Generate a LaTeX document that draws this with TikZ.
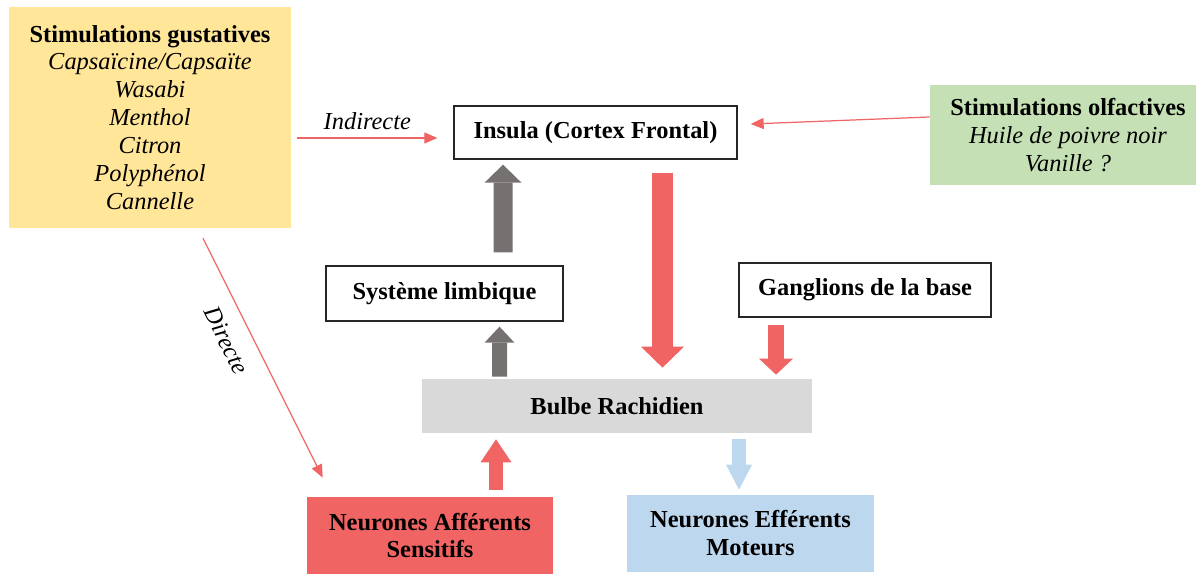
\documentclass[tikz,border=0pt]{standalone}
\usepackage{fontspec}
\setmainfont{Liberation Serif}
\usetikzlibrary{arrows.meta,calc}

\definecolor{gustyellow}{HTML}{FFE699}
\definecolor{olfgreen}{HTML}{C5E0B4}
\definecolor{nervered}{HTML}{F06464}
\definecolor{bulbegray}{HTML}{D9D9D9}
\definecolor{motorblue}{HTML}{BDD7EE}
\definecolor{limbgray}{HTML}{767171}

\begin{document}
\begin{tikzpicture}[x=0.02cm, y=-0.02cm,
			font=\fontsize{13.9}{15.9}\selectfont,
			plainbox/.style={rectangle, draw=black!85, line width=0.8pt, align=center, font=\fontsize{13.9}{15.9}\selectfont\bfseries},
			colorbox/.style={rectangle, fill=#1, align=center, inner sep=0pt},
			linkarrow/.style={draw=nervered, line width=0.7pt, -{Triangle[length=0.26cm, width=0.22cm]}},
			flow/.style n args={4}{draw=#1, line width=#2, -{Triangle[width=#3, length=#4, line width=0pt]}}
		]
		\useasboundingbox (0,0) rectangle (1196,574);

		% stimulations
		\node (gust) [colorbox=gustyellow, minimum width=5.64cm, minimum height=4.42cm] at (150,117.5)
			{\textbf{Stimulations gustatives}\\ \textit{Capsaïcine/Capsaïte}\\ \textit{Wasabi}\\ \textit{Menthol}\\ \textit{Citron}\\ \textit{Polyphénol}\\ \textit{Cannelle}};
		\node (olf) [colorbox=olfgreen, minimum width=5.52cm, minimum height=2cm] at (1068,135)
			{\textbf{Stimulations olfactives}\\ \textit{Huile de poivre noir}\\ \textit{Vanille ?}};

		% centres
		\node (insula) [plainbox, minimum width=5.66cm, minimum height=1.06cm] at (595.5,132.5) {Insula (Cortex Frontal)};
		\node (limbique) [plainbox, minimum width=4.74cm, minimum height=1.1cm] at (444.5,293.5) {Système limbique};
		\node (ganglions) [plainbox, minimum width=5.04cm, minimum height=1.08cm] at (865,290) {Ganglions de la base};
		\node (bulbe) [colorbox=bulbegray, font=\fontsize{13.9}{15.9}\selectfont\bfseries, minimum width=7.8cm, minimum height=1.08cm] at (617,406) {Bulbe Rachidien};

		% neurones
		\node (afferents) [colorbox=nervered, font=\fontsize{13.9}{15.9}\selectfont\bfseries, minimum width=4.92cm, minimum height=1.54cm] at (430,535.5) {Neurones Afférents\\ Sensitifs};
		\node (efferents) [colorbox=motorblue, font=\fontsize{13.9}{15.9}\selectfont\bfseries, minimum width=4.94cm, minimum height=1.54cm] at (750.5,533.5) {Neurones Efférents\\ Moteurs};

		% voies
		\draw [linkarrow] ($(gust.east)+(6,20.5)$) -- node[above=1pt, font=\fontsize{13.9}{15.9}\selectfont\itshape] {Indirecte} ($(insula.west)+(-16,5.5)$);
		\draw [linkarrow] ($(olf.west)+(0,-18)$) -- ($(insula.east)+(13,-8.5)$);
		\draw [linkarrow] ($(gust.south)+(53,10)$) -- node[pos=0.38, sloped, below=0.2cm, font=\fontsize{13.9}{15.9}\selectfont\itshape] {Directe} ($(afferents.north west)+(16,-19)$);

		\draw [flow={limbgray}{0.38cm}{0.74cm}{0.36cm}] ($(limbique.north)+(58.5,-13)$) -- ($(insula.south)+(-92.5,5)$);
		\draw [flow={nervered}{0.42cm}{0.86cm}{0.42cm}] ($(insula.south)+(67,13)$) -- ($(bulbe.north)+(45.5,-11)$);
		\draw [flow={limbgray}{0.3cm}{0.6cm}{0.32cm}] ($(bulbe.north)+(-117.5,-2)$) -- ($(limbique.south)+(55,5)$);
		\draw [flow={nervered}{0.32cm}{0.68cm}{0.32cm}] ($(ganglions.south)+(-89,7)$) -- ($(bulbe.north)+(159,-4)$);
		\draw [flow={nervered}{0.28cm}{0.62cm}{0.46cm}] ($(afferents.north)+(66,-7)$) -- ($(bulbe.south)+(-121,6)$);
		\draw [flow={motorblue}{0.28cm}{0.52cm}{0.5cm}] ($(bulbe.south)+(122,6)$) -- ($(efferents.north)+(-11.5,-5)$);

	\end{tikzpicture}
\end{document}
